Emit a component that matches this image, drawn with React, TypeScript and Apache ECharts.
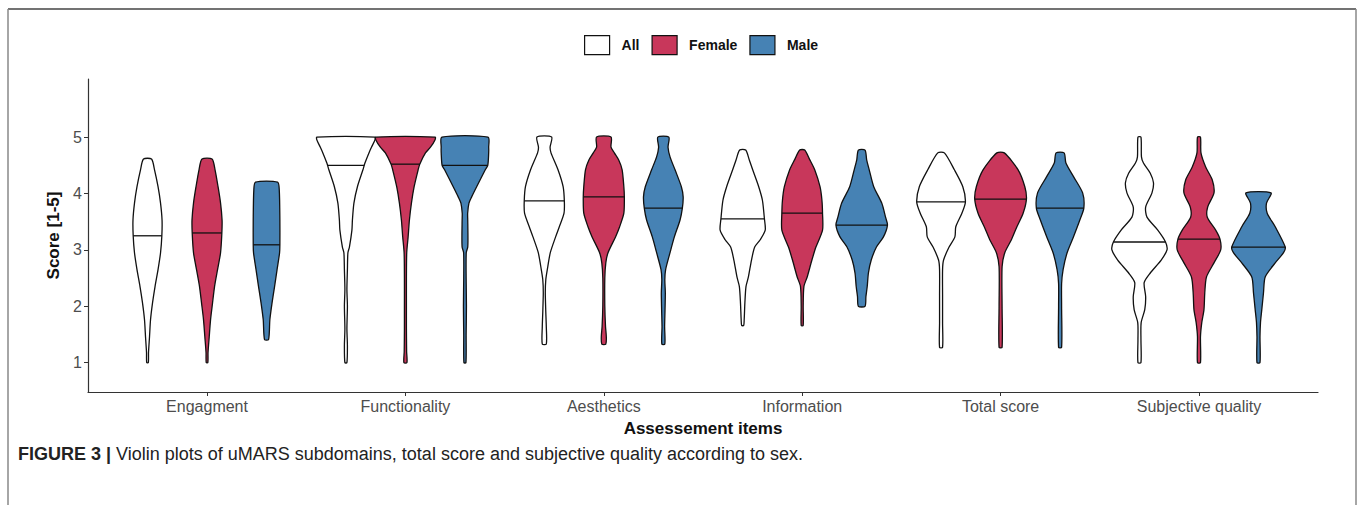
import React, { useEffect, useRef } from "react";
import * as echarts from "echarts";

const categories = ["Engagment", "Functionality", "Aesthetics", "Information", "Total score", "Subjective quality"];
const groups = ["All", "Female", "Male"];
const groupColors = ["#FFFFFF", "#C8375B", "#4682B4"];
const yTicks = [1, 2, 3, 4, 5];

const allMedians = [3.25, 4.5, 3.87, 3.55, 3.85, 3.14];
const femaleMedians = [3.3, 4.52, 3.94, 3.65, 3.9, 3.19];
const maleMedians = [3.09, 4.5, 3.74, 3.44, 3.74, 3.05];

// violin outlines: [score, relative density] from bottom to top
const allProfiles = [
  [[1.0, 0.8], [1.18, 1], [1.46, 2], [1.76, 3], [2.06, 5], [2.35, 7.5], [2.65, 10.5], [2.95, 13], [3.25, 14.3], [3.53, 14.5], [3.83, 13], [4.12, 10.5], [4.42, 7], [4.61, 4]],
  [[1.0, 1], [1.3, 1.5], [1.6, 1], [2.0, 1.5], [2.3, 1], [2.65, 1.5], [2.95, 2], [3.05, 3.5], [3.35, 6], [3.53, 6.5], [3.83, 8], [4.12, 11.5], [4.42, 17], [4.54, 19], [4.72, 23], [4.82, 25.5], [4.95, 29], [5.0, 29]],
  [[1.33, 2], [1.64, 2], [1.9, 1.5], [2.24, 1], [2.47, 1.5], [2.65, 3], [2.95, 6], [3.23, 11.3], [3.41, 15], [3.65, 19.7], [3.87, 20], [4.12, 18.8], [4.42, 13.7], [4.72, 6.7], [4.82, 5.8], [5.0, 7.3]],
  [[1.66, 1], [1.76, 1.5], [2.06, 2.2], [2.35, 3.3], [2.52, 5.7], [2.82, 8.8], [3.05, 12], [3.18, 17.5], [3.35, 22.5], [3.55, 21.7], [3.88, 19.7], [4.12, 16], [4.42, 10], [4.59, 6.7], [4.77, 3]],
  [[1.27, 1.5], [1.7, 1.5], [2.2, 1.5], [2.65, 1.5], [2.82, 2.5], [3.05, 8], [3.23, 13.8], [3.41, 14.7], [3.65, 20.8], [3.85, 24.3], [4.12, 21.7], [4.42, 13.3], [4.72, 3.3]],
  [[1.0, 1.5], [1.4, 1.5], [1.71, 1.7], [1.94, 5.3], [2.17, 6.2], [2.42, 4.7], [2.59, 10.8], [2.82, 21.7], [3.0, 27.5], [3.14, 26], [3.35, 18.3], [3.58, 7.5], [3.76, 6.2], [4.01, 12.5], [4.19, 14], [4.36, 10.8], [4.54, 4], [4.65, 2], [5.0, 1.5]],
];
const femaleProfiles = [
  [[1.0, 0.8], [1.18, 1], [1.46, 2.2], [1.76, 3.5], [2.06, 5.5], [2.35, 7.5], [2.65, 10.5], [2.95, 13.5], [3.3, 14.8], [3.53, 15], [3.83, 13.5], [4.12, 11], [4.42, 8], [4.61, 5]],
  [[1.0, 1.5], [1.2, 1.2], [1.6, 1], [2.0, 1], [2.5, 1], [2.95, 1.3], [3.23, 2.7], [3.53, 4], [3.83, 6], [4.12, 8.7], [4.42, 12.7], [4.52, 14.3], [4.72, 20], [4.82, 25], [4.95, 29.5], [5.0, 29.7]],
  [[1.33, 2], [1.46, 2.5], [1.64, 1.7], [2.0, 1], [2.5, 1], [2.77, 2], [2.95, 4.2], [3.23, 11.7], [3.41, 15.8], [3.65, 20], [3.94, 20.5], [4.12, 20], [4.42, 18.3], [4.59, 15], [4.72, 10.5], [4.82, 7.2], [5.0, 7.2]],
  [[1.66, 1], [2.0, 1], [2.35, 1.7], [2.52, 5], [2.82, 9.7], [3.05, 13.7], [3.35, 20.3], [3.65, 20.3], [3.88, 19.7], [4.12, 17.8], [4.42, 12.5], [4.6, 7.5], [4.77, 2.5]],
  [[1.27, 1.5], [2.0, 1.5], [2.7, 1.5], [2.95, 4.2], [3.18, 10.8], [3.41, 16.3], [3.65, 22.5], [3.9, 25.8], [4.12, 24.2], [4.42, 17.5], [4.72, 3.7]],
  [[1.0, 1.5], [1.46, 1.5], [1.71, 2.8], [1.94, 5], [2.24, 5.8], [2.52, 7.5], [2.77, 15], [3.0, 21.7], [3.19, 21], [3.35, 16.7], [3.58, 8.3], [3.76, 8.7], [4.01, 15], [4.24, 13.3], [4.47, 6.7], [4.72, 2], [5.0, 1.5]],
];
const maleProfiles = [
  [[1.41, 2], [1.76, 3.3], [2.06, 5.5], [2.35, 8], [2.65, 10.5], [2.95, 13], [3.09, 13.3], [3.53, 13.3], [4.06, 12.7], [4.2, 11]],
  [[1.0, 1], [1.5, 1.2], [2.0, 1.5], [2.5, 1.2], [2.95, 1.3], [3.05, 2.8], [3.25, 3], [3.53, 2.8], [3.65, 2.7], [3.83, 4], [3.94, 6.7], [4.12, 11.7], [4.42, 20.3], [4.5, 22.8], [4.72, 23.7], [4.82, 23.7], [5.0, 23]],
  [[1.33, 1.5], [1.64, 1.3], [1.94, 1.7], [2.24, 2], [2.47, 1.5], [2.65, 2.3], [2.95, 6.7], [3.23, 11], [3.53, 16.7], [3.74, 19], [3.94, 19.8], [4.12, 18], [4.42, 11.7], [4.65, 6.7], [4.82, 4.7], [5.0, 5.5]],
  [[2.0, 3.3], [2.17, 4.2], [2.35, 5.5], [2.59, 6.7], [2.82, 9.5], [3.05, 14.7], [3.23, 21.7], [3.44, 25.7], [3.58, 23.8], [3.83, 20], [4.12, 12], [4.42, 7.5], [4.59, 5], [4.77, 3.3]],
  [[1.27, 1.5], [2.0, 1.5], [2.4, 1.5], [2.65, 3], [2.95, 7], [3.23, 13.3], [3.53, 19.7], [3.74, 23.7], [4.01, 22.5], [4.29, 13.7], [4.54, 5.8], [4.72, 4]],
  [[1.0, 1.5], [1.46, 1.5], [1.71, 2], [1.94, 3.3], [2.24, 5], [2.52, 6.7], [2.77, 16.7], [2.95, 25], [3.05, 26.7], [3.41, 16.7], [3.65, 8.7], [3.83, 8], [4.01, 12.5]],
];

const groupProfiles = [allProfiles, femaleProfiles, maleProfiles];
const groupMedians = [allMedians, femaleMedians, maleMedians];
const dodge = [-0.3, 0, 0.3];
const DENS = 0.15 / 29.7; // relative density -> x-axis units

function interp(prof: number[][], v: number) {
  for (let k = 0; k < prof.length - 1; k++) {
    const [a, da] = prof[k];
    const [b, db] = prof[k + 1];
    if (v >= a && v <= b) return da + ((v - a) / (b - a)) * (db - da);
  }
  return prof[prof.length - 1][1];
}

function makeRender(g: number) {
  return (params: any, api: any) => {
    const i = params.dataIndex;
    const prof = groupProfiles[g][i];
    const xc = api.value(0) + dodge[g];
    const med = api.value(1);
    const pts: number[][] = [];
    for (const [v, d] of prof) pts.push(api.coord([xc + d * DENS, v]));
    for (let k = prof.length - 1; k >= 0; k--) pts.push(api.coord([xc - prof[k][1] * DENS, prof[k][0]]));
    const hw = interp(prof, med) * DENS;
    const p1 = api.coord([xc - hw, med]);
    const p2 = api.coord([xc + hw, med]);
    return {
      type: "group",
      children: [
        { type: "polygon", shape: { points: pts, smooth: 0.25 }, style: { fill: groupColors[g], stroke: "#111", lineWidth: 1.3 } },
        { type: "line", shape: { x1: p1[0], y1: p1[1], x2: p2[0], y2: p2[1] }, style: { stroke: "#111", lineWidth: 1.3 } },
      ],
    };
  };
}

export default function App() {
  const ref = useRef<HTMLDivElement>(null);
  useEffect(() => {
    document.body.style.margin = "0";
    const chart = echarts.init(ref.current!, null, { renderer: "svg" });
    const font = "'Liberation Sans', Arial, sans-serif";
    const option: any = {
      animation: false,
      backgroundColor: "#fff",
      textStyle: { fontFamily: font },
      legend: {
        top: 30,
        left: 579,
        itemWidth: 25,
        itemHeight: 19,
        itemGap: 12,
        icon: "rect",
        textStyle: { fontWeight: "bold", fontSize: 14, color: "#111", fontFamily: font, padding: [0, 0, 0, 7] },
        data: groups.map((g, i) => ({ name: g, itemStyle: { color: groupColors[i], borderColor: "#111", borderWidth: 1.2 } })),
      },
      grid: { left: 88, right: 40, top: 79, bottom: 113 },
      xAxis: {
        type: "value",
        min: 0.4,
        max: 6.6,
        name: "Assessement items",
        nameLocation: "middle",
        nameGap: 28,
        nameTextStyle: { fontWeight: "bold", fontSize: 17, color: "#111", fontFamily: font },
        axisLine: { show: true, lineStyle: { color: "#333", width: 1.2 } },
        axisTick: { show: true, length: 4, lineStyle: { color: "#333" }, customValues: [1, 2, 3, 4, 5, 6] },
        axisLabel: {
          customValues: [1, 2, 3, 4, 5, 6],
          formatter: (v: number) => categories[Math.round(v) - 1] || "",
          fontSize: 16,
          color: "#4D4D4D",
          margin: 6,
          fontFamily: font,
        },
        splitLine: { show: false },
      },
      yAxis: {
        type: "value",
        min: 0.48,
        max: 6.03,
        name: "Score [1-5]",
        nameLocation: "middle",
        nameGap: 23,
        nameTextStyle: { fontWeight: "bold", fontSize: 17, color: "#111", fontFamily: font },
        axisLine: { show: true, lineStyle: { color: "#333", width: 1.2 } },
        axisTick: { show: true, length: 4, lineStyle: { color: "#333" }, customValues: yTicks },
        axisLabel: { customValues: yTicks, fontSize: 16, color: "#4D4D4D", margin: 6, fontFamily: font },
        splitLine: { show: false },
      },
      graphic: [
        { type: "line", shape: { x1: 8, y1: 9, x2: 1356, y2: 9 }, style: { stroke: "#444", lineWidth: 1.5 } },
        { type: "line", shape: { x1: 8, y1: 9, x2: 8, y2: 505 }, style: { stroke: "#888", lineWidth: 1.5 } },
        { type: "line", shape: { x1: 1356, y1: 9, x2: 1356, y2: 505 }, style: { stroke: "#888", lineWidth: 1.5 } },
        {
          type: "text",
          left: 18,
          top: 445,
          style: {
            text: "{b|FIGURE 3 |} Violin plots of uMARS subdomains, total score and subjective quality according to sex.",
            fontSize: 18,
            fill: "#222",
            fontFamily: font,
            rich: { b: { fontWeight: "bold", fontSize: 18, fill: "#222", fontFamily: font } },
          },
        },
      ],
      series: groups.map((g, gi) => ({
        type: "custom",
        name: g,
        itemStyle: { color: groupColors[gi], borderColor: "#111" },
        renderItem: makeRender(gi),
        data: categories.map((_, ci) => [ci + 1, groupMedians[gi][ci]]),
        encode: { x: 0, y: 1 },
      })),
    };
    chart.setOption(option);
    return () => chart.dispose();
  }, []);
  return <div ref={ref} style={{ width: 1358, height: 505 }} />;
}
